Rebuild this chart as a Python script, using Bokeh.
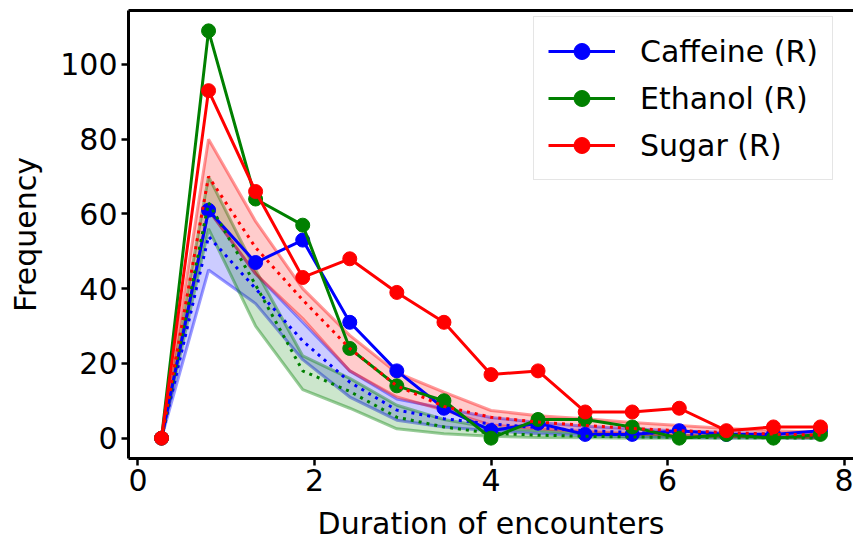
from bokeh.plotting import figure
from bokeh.models import Range1d, FixedTicker, LinearAxis
from bokeh.embed import file_html
from bokeh.resources import INLINE

# Bin centres of the encounter-duration histogram
durations = [0.267, 0.8, 1.333, 1.867, 2.4, 2.933, 3.467, 4.0, 4.533,
             5.067, 5.6, 6.133, 6.667, 7.2, 7.733]

# Observed frequencies
caffeine = [0, 61, 47, 53, 31, 18, 8, 2, 4, 1, 1, 2, 1, 1, 2]
ethanol = [0, 109, 64, 57, 24, 14, 10, 0, 5, 5, 3, 0, 1, 0, 1]
sugar = [0, 93, 66, 43, 48, 39, 31, 17, 18, 7, 7, 8, 2, 3, 3]

# Randomised reference: lower bound, mean, upper bound
caffeine_lo = [0, 45, 36, 21, 11, 4.8, 3, 2, 1.2, 0.7, 0.4, 0.2, 0.1, 0.1, 0]
caffeine_mean = [0, 54, 40, 26, 15, 7.5, 5.2, 3.8, 2.8, 2, 1.5, 1.1, 0.8, 0.6, 0.4]
caffeine_hi = [0, 61, 44, 31, 18, 10.5, 8, 5.5, 4.2, 3.2, 2.5, 1.9, 1.5, 1.2, 0.9]

ethanol_lo = [0, 56, 30, 13, 8, 2.5, 1.2, 0.5, 0.2, 0.1, 0, 0, 0, 0, 0]
ethanol_mean = [0, 63, 41, 18, 12.5, 5.6, 3, 1.3, 0.8, 0.5, 0.3, 0.2, 0.1, 0.1, 0]
ethanol_hi = [0, 70, 45, 22, 16, 8.8, 5, 2.8, 2, 1.4, 1, 0.7, 0.5, 0.3, 0.2]

sugar_lo = [0, 61, 44, 32, 18, 11, 7.5, 3.5, 2.5, 1.8, 1.2, 0.8, 0.5, 0.3, 0.2]
sugar_mean = [0, 70, 51, 37, 24, 14, 8.5, 5.6, 4.3, 3.4, 2.6, 2.0, 1.5, 1.1, 0.8]
sugar_hi = [0, 80, 58, 40, 27.5, 17.5, 12.3, 7.4, 6, 5.2, 4.2, 3.4, 2.6, 2.0, 1.6]

x_ticks = [0, 2, 4, 6, 8]
y_ticks = [0, 20, 40, 60, 80, 100]

series = [
    ("Caffeine (R)", "#0000ff", caffeine, caffeine_lo, caffeine_mean, caffeine_hi),
    ("Ethanol (R)", "#008000", ethanol, ethanol_lo, ethanol_mean, ethanol_hi),
    ("Sugar (R)", "#ff0000", sugar, sugar_lo, sugar_mean, sugar_hi),
]

FONT = "DejaVu Sans"

p = figure(width=853, height=544, output_backend="svg", toolbar_location=None,
           x_range=Range1d(-0.107, 8.107), y_range=Range1d(-5.45, 114.45),
           min_border_left=128, min_border_right=0, min_border_top=10,
           min_border_bottom=86)

xax = p.below[0]
yax = p.left[0]

p.xgrid.visible = False
p.ygrid.visible = False
p.outline_line_color = None
p.background_fill_color = "white"
p.border_fill_color = "white"

# Envelopes of the randomised reference
for name, color, obs, lo, mean, hi in series:
    p.varea(x=durations, y1=lo, y2=hi, fill_color=color, fill_alpha=0.2)
    p.line(durations, lo, line_color=color, line_alpha=0.4, line_width=3)
    p.line(durations, hi, line_color=color, line_alpha=0.4, line_width=3)

# Reference means (dotted) and observed counts (solid with markers)
for name, color, obs, lo, mean, hi in series:
    p.line(durations, mean, line_color=color, line_width=3, line_dash="3 5")
    p.line(durations, obs, line_color=color, line_width=3, legend_label=name)
    p.scatter(durations, obs, marker="circle", size=14, fill_color=color,
              line_color=color, legend_label=name)

for ax in (xax, yax):
    ax.axis_line_width = 3
    ax.axis_line_color = "black"
    ax.major_tick_line_width = 2.5
    ax.major_tick_in = 0
    ax.major_tick_out = 7
    ax.minor_tick_line_color = None
    ax.major_label_text_font = FONT
    ax.major_label_text_font_size = "30px"
    ax.major_label_text_color = "black"
    ax.axis_label_text_font = FONT
    ax.axis_label_text_font_size = "30px"
    ax.axis_label_text_font_style = "normal"
    ax.axis_label_text_color = "black"

xax.ticker = FixedTicker(ticks=x_ticks)
yax.ticker = FixedTicker(ticks=y_ticks)
xax.axis_label = "Duration of encounters"
yax.axis_label = "Frequency"
xax.major_label_standoff = 3
xax.axis_label_standoff = 12
yax.major_label_standoff = 4
yax.axis_label_standoff = 14

# Top spine as a bare axis line
top_spine = LinearAxis(ticker=FixedTicker(ticks=[]), axis_line_width=3,
                       axis_line_color="black", major_tick_in=0,
                       major_tick_out=0, minor_tick_in=0, minor_tick_out=0,
                       major_label_text_font_size="0px")
p.add_layout(top_spine, "above")

leg = p.legend[0]
leg.location = (405, 278)
leg.glyph_width = 67
leg.glyph_height = 40
leg.label_standoff = 25
leg.spacing = 7
leg.padding = 14
leg.label_text_font = FONT
leg.label_text_font_size = "30px"
leg.label_text_color = "black"
leg.border_line_color = "#cccccc"
leg.border_line_width = 1.5
leg.background_fill_alpha = 0.8

open("out.html", "w").write(file_html(p, INLINE))
